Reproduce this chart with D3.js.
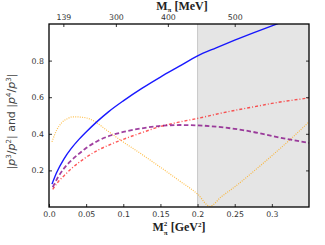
<!DOCTYPE html>
<html>
<head>
<meta charset="utf-8">
<script src="https://cdn.jsdelivr.net/npm/d3@7"></script>
<style>
  body { margin: 0; background: #fff; }
  svg { display: block; }
  .tick text { font-family: "DejaVu Sans", sans-serif; font-size: 7.8px; fill: #333; }
</style>
</head>
<body>
<svg id="chart"></svg>
<script>
// values
const blueX = [0.004, 0.01, 0.02, 0.03, 0.04, 0.05, 0.065, 0.08, 0.1, 0.125, 0.15, 0.175, 0.2, 0.225, 0.25, 0.275, 0.3, 0.312];
const blueY = [0.125, 0.186, 0.262, 0.32, 0.368, 0.41, 0.468, 0.52, 0.58, 0.648, 0.71, 0.768, 0.826, 0.87, 0.912, 0.952, 0.99, 1.008];

const purpleX = [0.005, 0.0125, 0.02, 0.0305, 0.04, 0.05, 0.066, 0.084, 0.1, 0.122, 0.15, 0.175, 0.2, 0.225, 0.25, 0.275, 0.3, 0.35];
const purpleY = [0.108, 0.165, 0.21, 0.256, 0.29, 0.322, 0.362, 0.392, 0.41, 0.428, 0.443, 0.448, 0.446, 0.439, 0.427, 0.41, 0.388, 0.35];

const redX = [0.005, 0.0125, 0.02, 0.0305, 0.048, 0.066, 0.084, 0.1, 0.122, 0.15, 0.175, 0.2, 0.225, 0.25, 0.275, 0.3, 0.35];
const redY = [0.096, 0.138, 0.17, 0.211, 0.266, 0.311, 0.344, 0.37, 0.402, 0.44, 0.464, 0.484, 0.507, 0.528, 0.547, 0.566, 0.596];

const orangeX = [0.004, 0.0103, 0.017, 0.025, 0.032, 0.04, 0.053, 0.066, 0.0775, 0.0954, 0.122, 0.149, 0.176, 0.2007, 0.2164, 0.232, 0.25, 0.277, 0.3, 0.325, 0.35];
const orangeY = [0.356, 0.42, 0.46, 0.483, 0.493, 0.492, 0.484, 0.455, 0.42, 0.368, 0.296, 0.22, 0.142, 0.068, 0.004, 0.056, 0.11, 0.2, 0.28, 0.37, 0.465];

const bottomTicks = [0, 0.05, 0.1, 0.15, 0.2, 0.25, 0.3];
const bottomLabels = ["0.0", "0.05", "0.1", "0.15", "0.2", "0.25", "0.3"];
const leftTicks = [0.2, 0.4, 0.6, 0.8];
const topTicksMeV = [139, 300, 400, 500];
const shadeStart = 0.2;

const W = 325, H = 245;
const margin = { top: 24, right: 16, bottom: 38, left: 49 },
      width = W - margin.left - margin.right,
      height = H - margin.top - margin.bottom;

const svg = d3.select("#chart").attr("width", W).attr("height", H);
const g = svg.append("g").attr("transform", `translate(${margin.left},${margin.top})`);

const x = d3.scaleLinear().domain([0, 0.35]).range([0, width]);
const y = d3.scaleLinear().domain([0, 1]).range([height, 0]);

// shaded region
g.append("rect")
    .attr("x", x(shadeStart))
    .attr("y", 0)
    .attr("width", x(0.35) - x(shadeStart))
    .attr("height", height)
    .style("fill", "#e5e5e5");
g.append("line")
    .attr("x1", x(shadeStart)).attr("x2", x(shadeStart))
    .attr("y1", 0).attr("y2", height)
    .style("stroke", "#c8c8c8").style("stroke-width", 1);

g.append("clipPath").attr("id", "clip")
    .append("rect").attr("width", width).attr("height", height);

const line = d3.line()
    .x(d => x(d[0]))
    .y(d => y(d[1]))
    .curve(d3.curveMonotoneX);

function drawCurve(xs, ys, color, widthPx, dash, opacity) {
    g.append("path")
        .datum(d3.zip(xs, ys))
        .attr("clip-path", "url(#clip)")
        .attr("d", line)
        .style("fill", "none")
        .style("stroke", color)
        .style("stroke-width", widthPx)
        .style("stroke-dasharray", dash)
        .style("opacity", opacity);
}

drawCurve(orangeX, orangeY, "#ffa500", 1.2, "1,1.3", 0.7);
drawCurve(redX, redY, "#ff0000", 1.4, "3,2,1,2", 0.65);
drawCurve(purpleX, purpleY, "#800080", 1.8, "4.5,2.5", 0.75);
drawCurve(blueX, blueY, "#0000ff", 1.4, null, 0.9);

// axes, ticks pointing inward
g.append("g")
    .attr("transform", `translate(0,${height})`)
    .call(d3.axisBottom(x).tickValues(bottomTicks)
        .tickFormat((d, i) => bottomLabels[i])
        .tickSizeInner(-3).tickSizeOuter(0).tickPadding(4))
    .call(a => a.select(".domain").remove());

g.append("g")
    .call(d3.axisLeft(y).tickValues(leftTicks)
        .tickFormat(d3.format(".1f"))
        .tickSizeInner(-3).tickSizeOuter(0).tickPadding(5))
    .call(a => a.select(".domain").remove());

g.append("g")
    .attr("transform", `translate(${width},0)`)
    .call(d3.axisRight(y).tickValues(leftTicks)
        .tickFormat("")
        .tickSizeInner(-3).tickSizeOuter(0))
    .call(a => a.select(".domain").remove());

g.append("g")
    .call(d3.axisTop(x).tickValues(topTicksMeV.map(m => (m / 1000) ** 2))
        .tickFormat((d, i) => topTicksMeV[i])
        .tickSizeInner(-3).tickSizeOuter(0).tickPadding(4))
    .call(a => a.select(".domain").remove());

g.selectAll(".tick line").style("stroke", "#333").style("stroke-width", 1);

// frame
g.append("rect")
    .attr("width", width).attr("height", height)
    .style("fill", "none").style("stroke", "#000").style("stroke-width", 1.3);

// axis titles
const topTitle = svg.append("text")
    .attr("x", margin.left + width / 2 + 3)
    .attr("y", 10)
    .attr("text-anchor", "middle")
    .style("font-family", "'Liberation Serif', serif")
    .style("font-weight", "bold")
    .style("font-size", "12px")
    .style("fill", "#222");
topTitle.append("tspan").text("M");
topTitle.append("tspan").attr("dy", 2).style("font-size", "7px").text("π");
topTitle.append("tspan").attr("dy", -2).text(" [MeV]");

const botTitle = svg.append("text")
    .attr("x", margin.left + width / 2)
    .attr("y", 231)
    .attr("text-anchor", "middle")
    .style("font-family", "'Liberation Serif', serif")
    .style("font-weight", "bold")
    .style("font-size", "12px")
    .style("fill", "#222");
botTitle.append("tspan").text("M");
botTitle.append("tspan").attr("dy", -5).style("font-size", "7px").text("2");
botTitle.append("tspan").attr("dx", -3.5).attr("dy", 9).style("font-size", "7px").text("π");
botTitle.append("tspan").attr("dy", -4).text("  [GeV");
botTitle.append("tspan").attr("dy", -4).style("font-size", "7px").text("2");
botTitle.append("tspan").attr("dy", 4).text("]");

const yTitle = svg.append("text")
    .attr("transform", `translate(15,${margin.top + height / 2 + 6}) rotate(-90)`)
    .attr("text-anchor", "middle")
    .style("font-family", "'DejaVu Sans', sans-serif")
    .style("font-size", "11px")
    .style("fill", "#444");
yTitle.append("tspan").text("|");
yTitle.append("tspan").style("font-style", "italic").text("p");
yTitle.append("tspan").attr("dy", -4).style("font-size", "7px").text("3");
yTitle.append("tspan").attr("dy", 4).text("/");
yTitle.append("tspan").style("font-style", "italic").text("p");
yTitle.append("tspan").attr("dy", -4).style("font-size", "7px").text("2");
yTitle.append("tspan").attr("dy", 4).text("| and |");
yTitle.append("tspan").style("font-style", "italic").text("p");
yTitle.append("tspan").attr("dy", -4).style("font-size", "7px").text("4");
yTitle.append("tspan").attr("dy", 4).text("/");
yTitle.append("tspan").style("font-style", "italic").text("p");
yTitle.append("tspan").attr("dy", -4).style("font-size", "7px").text("3");
yTitle.append("tspan").attr("dy", 4).text("|");
</script>
</body>
</html>
